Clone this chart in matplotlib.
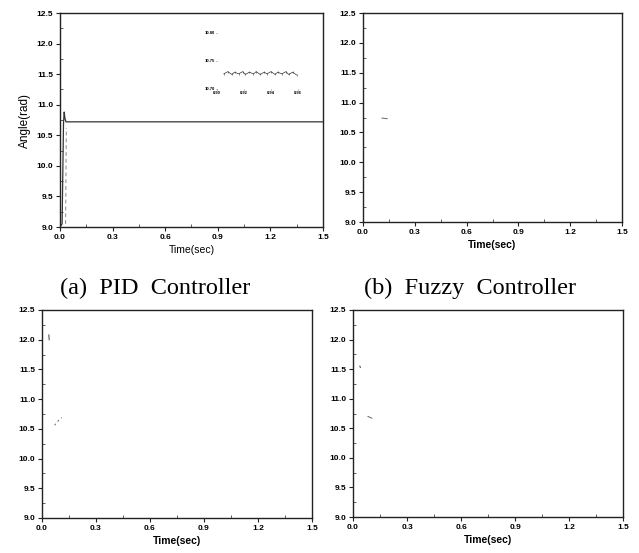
import matplotlib
matplotlib.use("Agg")
import matplotlib.pyplot as plt
from matplotlib.ticker import MultipleLocator

# data
x_ticks = [0.0, 0.3, 0.6, 0.9, 1.2, 1.5]
y_ticks = [9.0, 9.5, 10.0, 10.5, 11.0, 11.5, 12.0, 12.5]

pid_time = [0.0, 0.012, 0.020, 0.024, 0.028, 0.034, 1.5]
pid_angle = [9.0, 9.05, 10.70, 10.88, 10.78, 10.72, 10.72]
pid_dash_time = [0.032, 0.036]
pid_dash_angle = [9.05, 10.62]

zoom_time = [0.905, 0.908, 0.911, 0.913, 0.916, 0.919, 0.921, 0.924, 0.927,
             0.929, 0.932, 0.935, 0.937, 0.940, 0.943, 0.945, 0.948, 0.951,
             0.953, 0.956, 0.959]
zoom_angle = [10.727, 10.731, 10.726, 10.730, 10.727, 10.731, 10.726, 10.730,
              10.727, 10.731, 10.726, 10.730, 10.727, 10.731, 10.726, 10.730,
              10.727, 10.731, 10.726, 10.730, 10.725]
zoom_xticks = [0.90, 0.92, 0.94, 0.96]
zoom_yticks = [10.70, 10.75, 10.80]

# faint remnants of the other curves
fuzzy_time = [0.11, 0.14]
fuzzy_angle = [10.74, 10.73]
c_time_1 = [0.038, 0.040]
c_angle_1 = [12.08, 12.00]
c_time_2 = [0.07, 0.085, 0.11]
c_angle_2 = [10.56, 10.62, 10.69]
d_time_1 = [0.038, 0.041]
d_angle_1 = [11.55, 11.53]
d_time_2 = [0.083, 0.105]
d_angle_2 = [10.70, 10.67]

captions = ["(a) PID Controller", "(b) Fuzzy Controller"]

plt.rcParams['font.family'] = ['Liberation Sans', 'DejaVu Sans']

fig = plt.figure(figsize=(6.39, 5.53), dpi=100)
W, H = 639, 553


def px_axes(left, top, right, bottom):
    return fig.add_axes([left / W, 1 - bottom / H, (right - left) / W, (bottom - top) / H])


def style(ax, xlabel_bold=True):
    ax.set_xlim(0, 1.5)
    ax.set_ylim(9.0, 12.5)
    ax.set_xticks(x_ticks)
    ax.set_yticks(y_ticks)
    ax.set_xticklabels(["%.1f" % v for v in x_ticks])
    ax.set_yticklabels(["%.1f" % v for v in y_ticks])
    ax.xaxis.set_minor_locator(MultipleLocator(0.15))
    ax.yaxis.set_minor_locator(MultipleLocator(0.25))
    ax.tick_params(which='major', direction='out', length=3, width=0.8, pad=2,
                   labelsize=6, color='#222222')
    ax.tick_params(which='minor', direction='in', length=2, width=0.6, color='#444444')
    for lab in ax.get_xticklabels() + ax.get_yticklabels():
        lab.set_fontweight('bold')
    for sp in ax.spines.values():
        sp.set_linewidth(1.0)
        sp.set_color('#222222')
    ax.set_xlabel("Time(sec)", fontsize=7.5, fontweight='bold' if xlabel_bold else 'normal',
                  labelpad=3)


ax_a = px_axes(60, 13, 323, 227)
ax_b = px_axes(363, 13, 622, 222)
ax_c = px_axes(42, 310, 312, 518)
ax_d = px_axes(353, 310, 623, 517)

style(ax_a, xlabel_bold=False)
style(ax_b)
style(ax_c)
style(ax_d)

ax_a.plot(pid_time, pid_angle, color='#333333', lw=0.9)
ax_a.plot(pid_dash_time, pid_dash_angle, color='#888888', lw=0.7, ls=(0, (4, 3)))
ax_a.set_ylabel("Angle(rad)", fontsize=8.5, labelpad=4)

ax_b.plot(fuzzy_time, fuzzy_angle, color='#666666', lw=0.7)
ax_c.plot(c_time_1, c_angle_1, color='#555555', lw=0.8)
ax_c.plot(c_time_2, c_angle_2, color='#666666', lw=0.7, ls=(0, (2, 3)))
ax_d.plot(d_time_1, d_angle_1, color='#555555', lw=0.8)
ax_d.plot(d_time_2, d_angle_2, color='#666666', lw=0.7)

# zoomed inset in panel (a)
ins = px_axes(217, 33, 298, 89)
ins.plot(zoom_time, zoom_angle, color='#333333', lw=0.5, marker='|', ms=2, mew=0.4)
ins.set_xlim(0.90, 0.96)
ins.set_ylim(10.70, 10.80)
ins.set_xticks(zoom_xticks)
ins.set_yticks(zoom_yticks)
ins.set_xticklabels(["%.2f" % v for v in zoom_xticks])
ins.set_yticklabels(["%.2f" % v for v in zoom_yticks])
ins.tick_params(length=1, width=0.4, pad=0.5, labelsize=3, color='#444444')
for lab in ins.get_xticklabels() + ins.get_yticklabels():
    lab.set_fontweight('bold')
for sp in ins.spines.values():
    sp.set_visible(False)
ins.patch.set_alpha(0)

for cx, cap in zip([155, 470], captions):
    fig.text(cx / W, 1 - 288 / H, cap.replace(" ", "  "), ha='center', va='center',
             fontsize=17.5, family=['Liberation Serif', 'DejaVu Serif'])

fig.savefig("out.png", dpi=100)
